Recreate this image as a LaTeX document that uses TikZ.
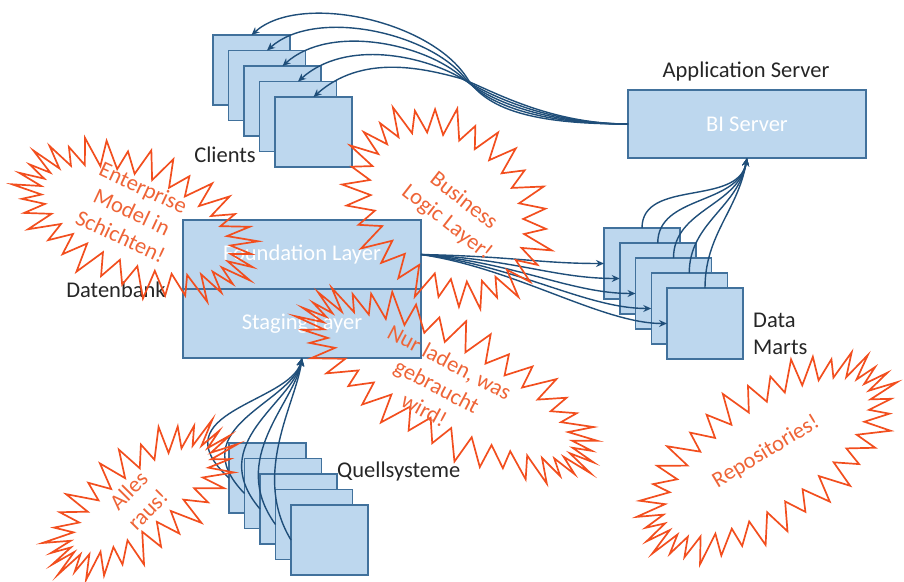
\documentclass[tikz,border=0pt]{standalone}
\usepackage{fontspec}
\setmainfont{Carlito}
\usetikzlibrary{arrows.meta}
\definecolor{boxfill}{RGB}{189,215,238}
\definecolor{boxline}{RGB}{65,113,156}
\definecolor{arrowc}{RGB}{31,78,121}
\definecolor{burstc}{RGB}{242,78,30}
\definecolor{bursttext}{RGB}{238,100,55}
\definecolor{labelc}{RGB}{38,38,38}
\newcommand\burstshape[6]{%
  \draw[burstline, shift={(#1,#2)}, rotate=#5] ({#3},0)
    \foreach \k in {1,...,#6} {
      -- ({(#3-25)*cos((\k-0.5)*360/#6)},{(#4-25)*sin((\k-0.5)*360/#6)})
      -- ({(#3+5*sin(11*(\k*360/#6)))*cos(\k*360/#6)},{(#4+5*sin(11*(\k*360/#6)))*sin(\k*360/#6)})
    } -- cycle;
}
\tikzset{
  sq/.style={draw=boxline, fill=boxfill, line width=1.5pt, minimum width=77pt, minimum height=70pt, inner sep=0pt, outer sep=0pt, anchor=north west},
  box/.style={draw=boxline, fill=boxfill, line width=1.5pt, inner sep=0pt, outer sep=0pt, anchor=north west, text=white, font=\fontsize{22.5}{26}\selectfont},
  conn/.style={draw=arrowc, line width=1.4pt, -{Stealth[length=8pt,width=7pt]}},
  lbl/.style={text=labelc, font=\fontsize{22.5}{27}\selectfont, inner sep=0pt},
  btext/.style={text=bursttext, font=\fontsize{22.5}{27}\selectfont, align=center, inner sep=0pt},
  burstline/.style={draw=burstc, line width=1.7pt, line join=miter}
}
\begin{document}
\begin{tikzpicture}[x=1pt,y=-1pt]
\useasboundingbox (0,0) rectangle (904,581);
% clients
\foreach \k in {0,...,4} {\node[sq] (cl\k) at ({213+15.5*\k},{35+15.5*\k}) {};}
% data marts
\foreach \k in {0,...,4} {\node[sq, minimum width=76pt, minimum height=71pt] (dm\k) at ({604+15.75*\k},{228+15*\k}) {};}
% quellsysteme
\foreach \k in {0,...,4} {\node[sq] (qs\k) at ({229+15.5*\k},{443+15.5*\k}) {};}
% database
\node[box, minimum width=238pt, minimum height=69pt] (fl) at (183,220) {Foundation Layer};
\node[box, minimum width=238pt, minimum height=69pt] (st) at (183,289) {Staging Layer};
% BI server
\node[box, minimum width=238pt, minimum height=68pt] (bi) at (628,90) {BI Server};
% labels
\node[lbl, anchor=east] (lclients) at (256,155) {Clients};
\node[lbl] (lapp) at (746,71) {Application Server};
\node[lbl] (ldb) at (116,290) {Datenbank};
\node[lbl, anchor=west, align=left] (ldm) at (753,334) {Data\\Marts};
\node[lbl, anchor=west] (lqs) at (337,471) {Quellsysteme};
% BI server -> clients
\foreach \k in {0,...,4} {
  \draw[conn] (bi.west) .. controls +(-85,0) and +(22,{35-7.2*\k}) .. ({467-2*\k},78)
     .. controls +(-37,{-58+12*\k}) and +(48,-43) .. (cl\k.north);
}
% foundation -> data marts
\foreach \k in {0,...,4} {
  \draw[conn] (fl.east) .. controls +(95,{2+3*\k}) and +(-65,0) .. (dm\k.west);
}
% data marts -> BI server
\foreach \k in {0,...,4} {
  \draw[conn] (dm\k.north) to[out=90, in=-100] (bi.south);
}
% quellsysteme -> staging
\foreach \k in {0,...,4} {
  \draw[conn] (qs\k.west) .. controls +({-72+8*\k},-66) and +({-12+1.5*\k},45) .. (st.south);
}
% bursts
\burstshape{136}{220}{126}{68}{-22}{34}
\node[btext, rotate=-25] (b1) at (132,212) {Enterprise\\Model in\\Schichten!};
\burstshape{447}{207}{112}{88}{-42}{30}
\node[btext, rotate=-38] (b2) at (455,212) {Business\\Logic Layer!};
\burstshape{448}{385}{165}{62}{-28}{38}
\node[btext, rotate=-28] (b3) at (437,386) {Nur laden, was\\gebraucht\\wird!};
\burstshape{141}{500}{110}{52}{36}{30}
\node[btext, rotate=45] (b4) at (138,500) {Alles\\raus!};
\burstshape{767}{457}{147}{72}{35}{36}
\node[btext, rotate=31] (b5) at (766,452) {Repositories!};
\end{tikzpicture}
\end{document}
